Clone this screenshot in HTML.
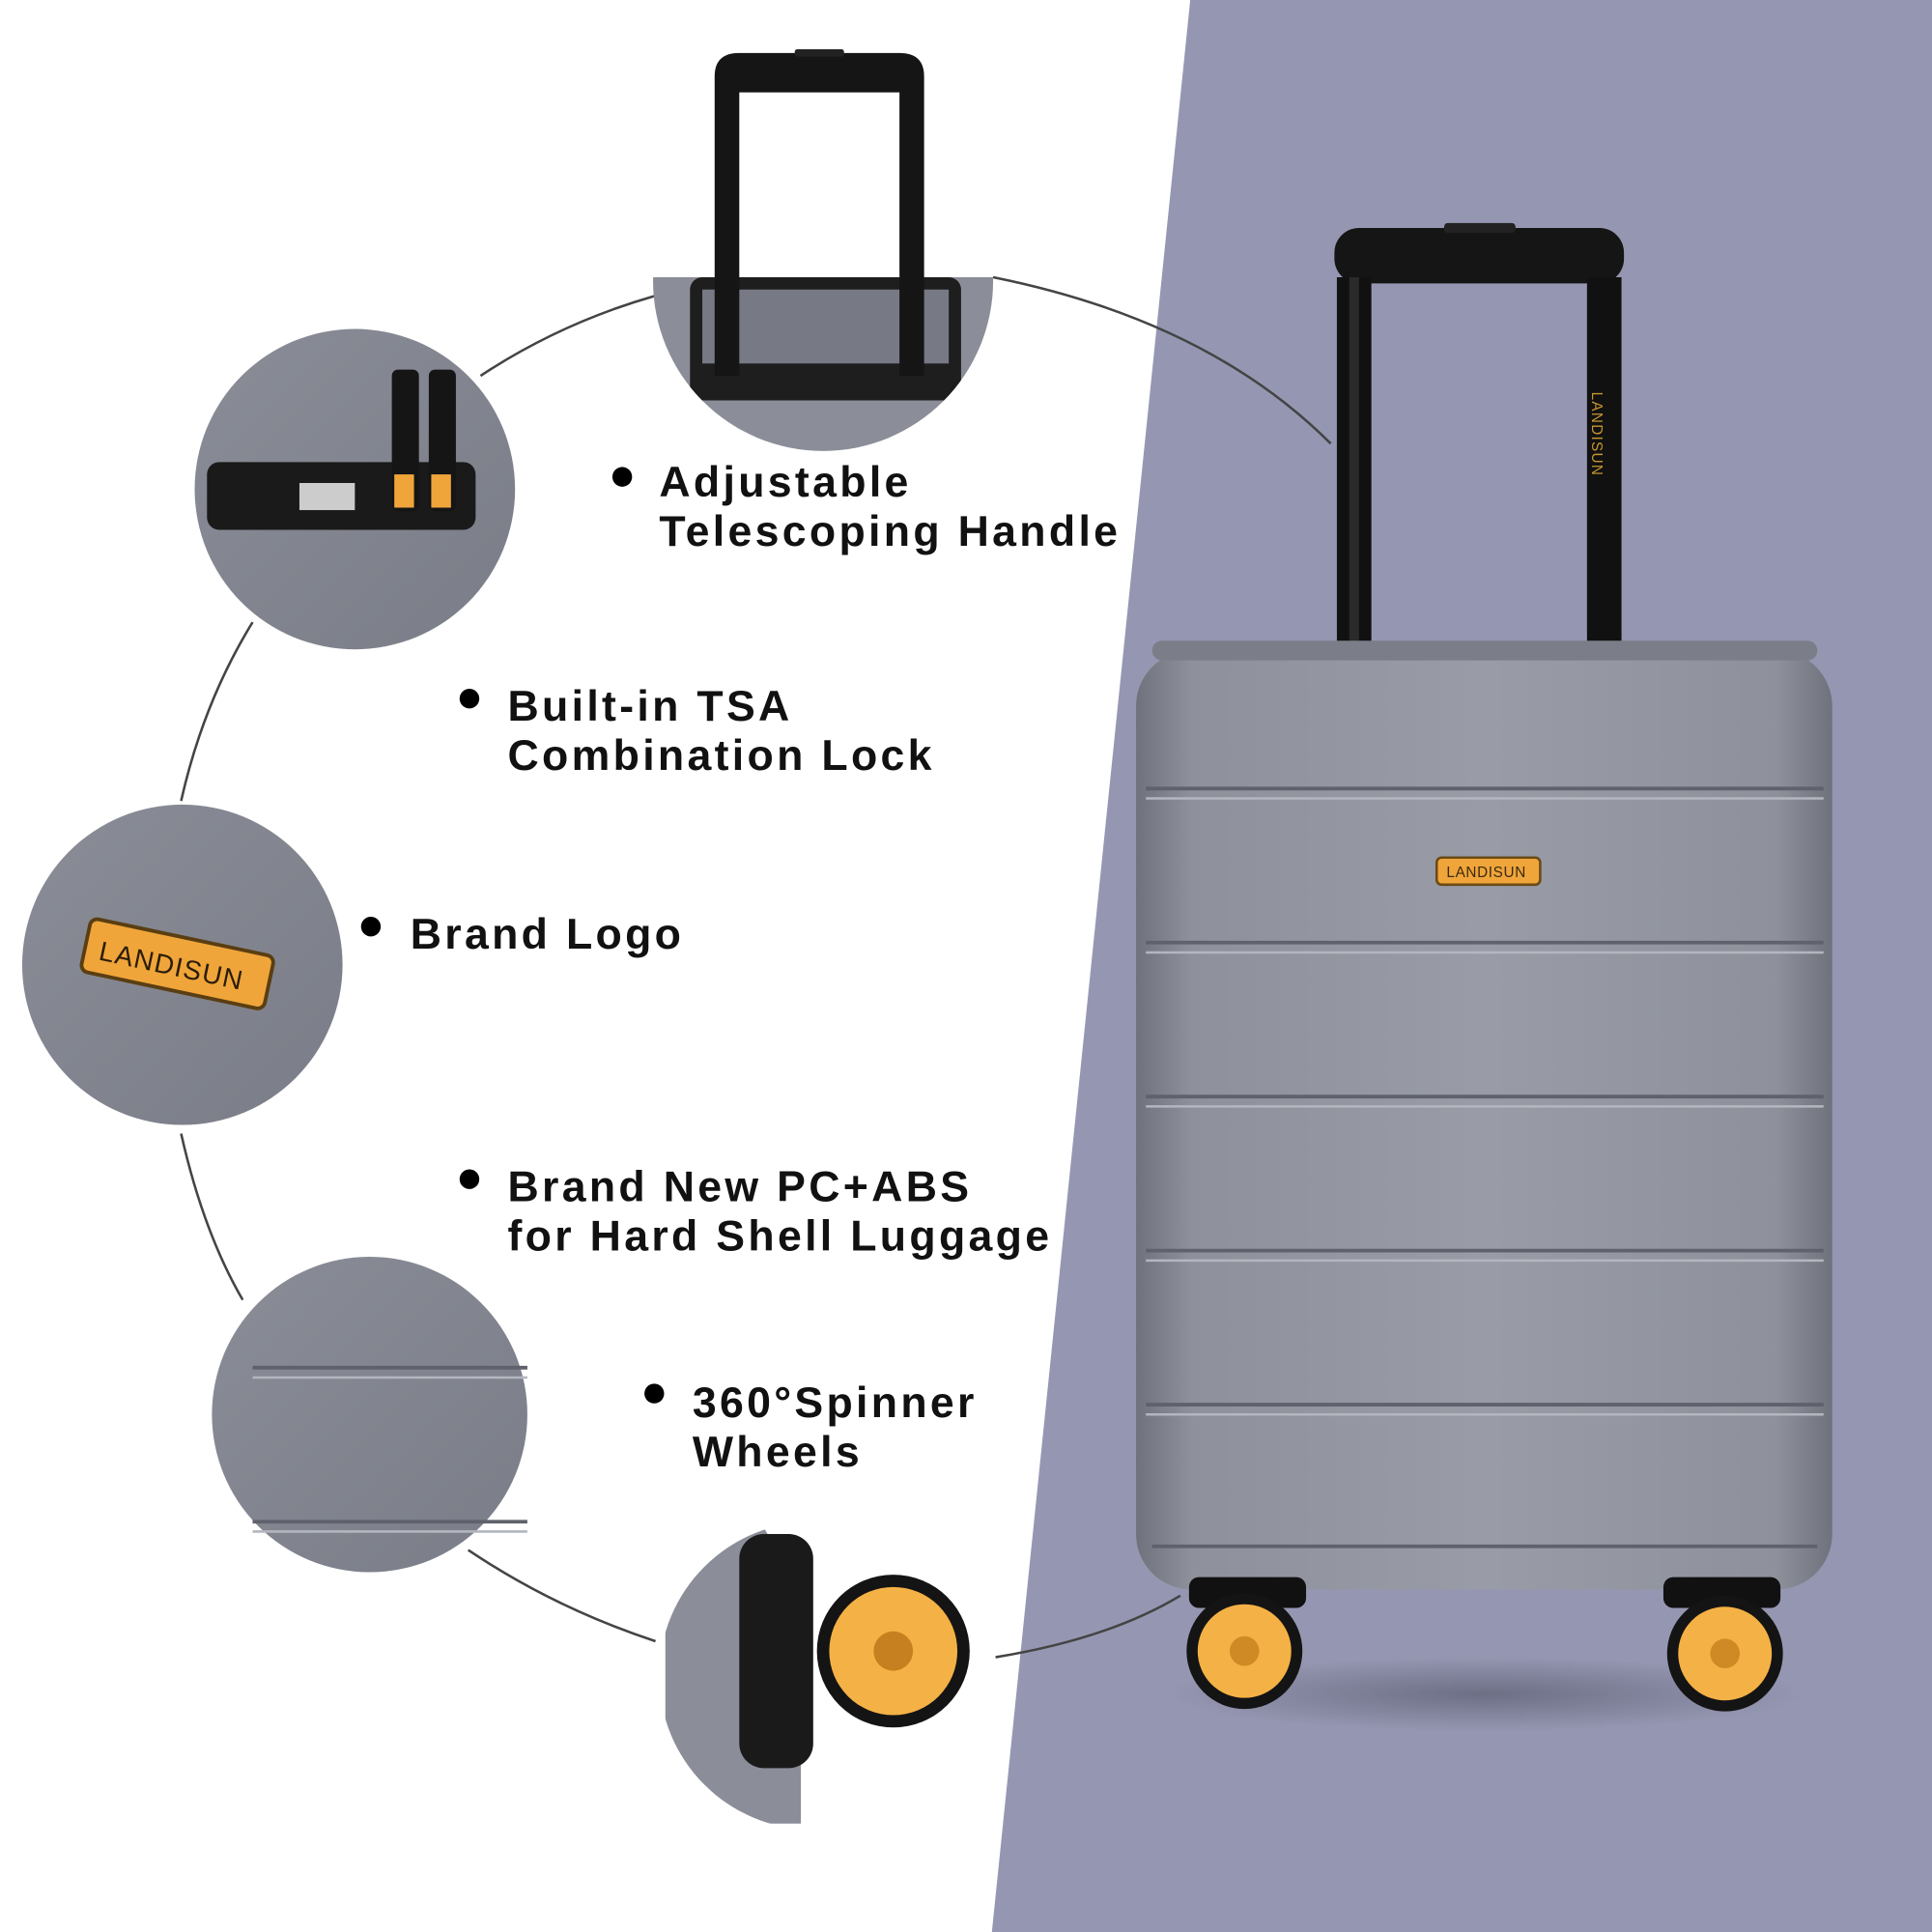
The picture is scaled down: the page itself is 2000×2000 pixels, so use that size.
<!DOCTYPE html>
<html><head><meta charset="utf-8"><style>
html,body{margin:0;padding:0;background:#fff;}
svg{display:block}
text{font-family:"Liberation Sans",Arial,sans-serif;font-weight:bold;fill:#111;font-size:35px;letter-spacing:2.6px}
</style></head><body>
<svg width="2000" height="2000" viewBox="0 0 1568 1568" xmlns="http://www.w3.org/2000/svg">
<defs>
<linearGradient id="shell" x1="0" y1="0" x2="1" y2="0">
<stop offset="0" stop-color="#6f727c"/><stop offset="0.08" stop-color="#8e919b"/><stop offset="0.5" stop-color="#999ca6"/><stop offset="0.92" stop-color="#8e919b"/><stop offset="1" stop-color="#6f727c"/>
</linearGradient>
<linearGradient id="circ" x1="0" y1="0" x2="1" y2="1">
<stop offset="0" stop-color="#8a8d97"/><stop offset="1" stop-color="#7a7d87"/>
</linearGradient>
<radialGradient id="shadow" cx="0.5" cy="0.5" r="0.5"><stop offset="0" stop-color="#5c5e72" stop-opacity="0.7"/><stop offset="1" stop-color="#5c5e72" stop-opacity="0"/></radialGradient>
</defs>
<polygon points="966,0 1568,0 1568,1568 805,1568" fill="#9597b2"/>
<g fill="none" stroke="#444" stroke-width="2">
<path d="M390,305 Q455,262 532,240"/>
<path d="M806,225 Q980,260 1080,360"/>
<path d="M205,505 Q165,570 147,650"/>
<path d="M147,920 Q165,1000 197,1055"/>
<path d="M380,1258 Q450,1305 532,1332"/>
<path d="M808,1345 Q900,1330 958,1295"/>
</g>
<ellipse cx="1205" cy="1375" rx="260" ry="30" fill="url(#shadow)"/>
<rect x="1083" y="185" width="235" height="45" rx="20" fill="#151515"/>
<rect x="1172" y="181" width="58" height="8" rx="3" fill="#222"/>
<rect x="1085" y="225" width="28" height="300" fill="#111"/>
<rect x="1288" y="225" width="28" height="300" fill="#111"/>
<rect x="1095" y="225" width="8" height="300" fill="#2a2a2a"/>
<text x="1292" y="318" transform="rotate(90 1292 318)" style="font-size:12px;fill:#c8962e;font-weight:normal;letter-spacing:1px">LANDISUN</text>
<rect x="922" y="528" width="565" height="762" rx="45" fill="url(#shell)"/>
<rect x="935" y="520" width="540" height="16" rx="8" fill="#7b7e88"/>
<g stroke="#5f626c" stroke-width="3" fill="none">
<path d="M930,640 H1480"/><path d="M930,765 H1480"/><path d="M930,890 H1480"/><path d="M930,1015 H1480"/><path d="M930,1140 H1480"/><path d="M935,1255 H1475"/>
</g>
<g stroke="#b3b6bf" stroke-width="2" fill="none">
<path d="M930,648 H1480"/><path d="M930,773 H1480"/><path d="M930,898 H1480"/><path d="M930,1023 H1480"/><path d="M930,1148 H1480"/>
</g>
<rect x="1166" y="696" width="84" height="22" rx="4" fill="#f0a53a" stroke="#6b4a16" stroke-width="2"/>
<text x="1174" y="712" style="font-size:12px;font-weight:normal;fill:#3a2a10;letter-spacing:0.5px">LANDISUN</text>
<rect x="965" y="1280" width="95" height="25" rx="8" fill="#111"/>
<rect x="1350" y="1280" width="95" height="25" rx="8" fill="#111"/>
<circle cx="1010" cy="1340" r="47" fill="#141414"/><circle cx="1010" cy="1340" r="38" fill="#f4b145"/><circle cx="1010" cy="1340" r="12" fill="#d08a25"/>
<circle cx="1400" cy="1342" r="47" fill="#141414"/><circle cx="1400" cy="1342" r="38" fill="#f4b145"/><circle cx="1400" cy="1342" r="12" fill="#d08a25"/>
<!-- handle detail -->
<clipPath id="c1"><circle cx="668" cy="228" r="138"/></clipPath>
<g clip-path="url(#c1)">
<rect x="530" y="225" width="280" height="200" fill="#8b8e98"/>
<rect x="560" y="225" width="220" height="100" rx="10" fill="#1e1e1e"/>
<rect x="570" y="235" width="200" height="60" fill="#777a84"/>
</g>
<path d="M580,305 V62 Q580,43 600,43 H730 Q750,43 750,62 V305 H730 V75 H600 V305 Z" fill="#151515"/>
<rect x="645" y="40" width="40" height="6" rx="2" fill="#222"/>
<circle cx="288" cy="397" r="130" fill="url(#circ)"/>
<rect x="168" y="375" width="218" height="55" rx="10" fill="#1a1a1a"/>
<rect x="318" y="300" width="22" height="115" rx="5" fill="#151515"/><rect x="348" y="300" width="22" height="115" rx="5" fill="#151515"/>
<rect x="320" y="385" width="16" height="27" fill="#f0a53a"/><rect x="350" y="385" width="16" height="27" fill="#f0a53a"/>
<rect x="243" y="392" width="45" height="22" fill="#ccc"/>
<circle cx="148" cy="783" r="130" fill="url(#circ)"/>
<g transform="rotate(12 143 782)"><rect x="68" y="760" width="152" height="44" rx="6" fill="#f0a53a" stroke="#5a3e12" stroke-width="3"/>
<text x="80" y="792" style="font-size:22px;font-weight:normal;fill:#2a1d08;letter-spacing:1px">LANDISUN</text></g>
<circle cx="300" cy="1148" r="128" fill="url(#circ)"/>
<g stroke="#5f626c" stroke-width="3"><path d="M205,1110 H428"/><path d="M205,1235 H428"/></g>
<g stroke="#b3b6bf" stroke-width="2"><path d="M205,1118 H428"/><path d="M205,1243 H428"/></g>
<clipPath id="c5"><circle cx="660" cy="1360" r="125"/></clipPath>
<g clip-path="url(#c5)">
<path d="M540,1240 L620,1240 L650,1290 L650,1480 L540,1480 Z" fill="#8b8e98"/>
<rect x="600" y="1245" width="60" height="190" rx="20" fill="#1a1a1a"/>
</g>
<circle cx="725" cy="1340" r="62" fill="#141414"/><circle cx="725" cy="1340" r="52" fill="#f4b145"/><circle cx="725" cy="1340" r="16" fill="#c7801f"/>
<g fill="#000">
<circle cx="505" cy="387" r="8"/><circle cx="381" cy="567" r="8"/><circle cx="301" cy="752" r="8"/><circle cx="381" cy="957" r="8"/><circle cx="531" cy="1131" r="8"/>
</g>
<text x="535" y="403">Adjustable</text>
<text x="535" y="443">Telescoping Handle</text>
<text x="412" y="585">Built-in TSA</text>
<text x="412" y="625">Combination Lock</text>
<text x="333" y="770">Brand Logo</text>
<text x="412" y="975">Brand New PC+ABS</text>
<text x="412" y="1015">for Hard Shell Luggage</text>
<text x="562" y="1150">360°Spinner</text>
<text x="562" y="1190">Wheels</text>
</svg>
</body></html>
